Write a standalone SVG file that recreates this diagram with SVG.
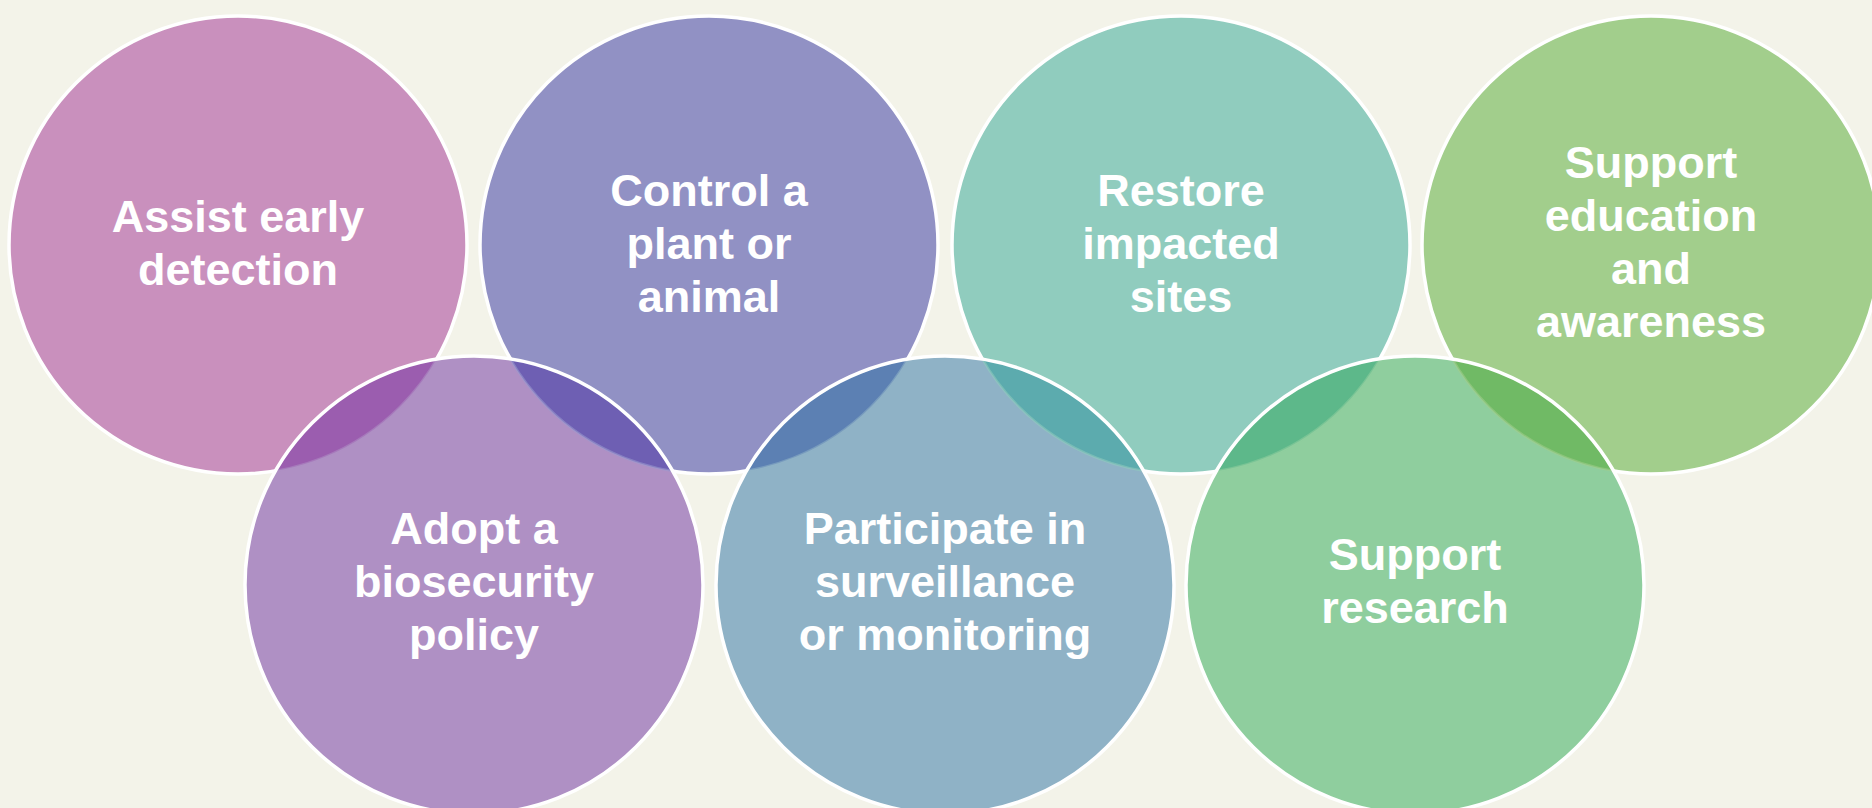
<svg xmlns="http://www.w3.org/2000/svg" width="1872" height="808" viewBox="0 0 1872 808">
<style>
.ring{stroke:#FFFFFF;stroke-width:3.5}
.outline{fill:none;stroke:#FFFFFF;stroke-width:3.5}
.lbl{font-family:"Liberation Sans",Arial,sans-serif;font-weight:bold;font-size:45px;fill:#FFFFFF;text-anchor:middle}
.lens{stroke-width:2.5;stroke-opacity:0.55}
</style>
<defs>
<clipPath id="clip5"><circle cx="474" cy="585" r="229"/></clipPath>
<clipPath id="clip6"><circle cx="945" cy="585" r="229"/></clipPath>
<clipPath id="clip7"><circle cx="1415" cy="585" r="229"/></clipPath>
</defs>
<rect x="0" y="0" width="1872" height="808" fill="#F3F3E9"/>
<g id="node-assist">
<circle class="ring" cx="238" cy="245" r="229" fill="#C990BD"/>
<text class="lbl" x="238" y="232">Assist early</text>
<text class="lbl" x="238" y="285">detection</text>
</g>
<g id="node-control">
<circle class="ring" cx="709" cy="245" r="229" fill="#9191C4"/>
<text class="lbl" x="709" y="205.5">Control a</text>
<text class="lbl" x="709" y="258.5">plant or</text>
<text class="lbl" x="709" y="311.5">animal</text>
</g>
<g id="node-restore">
<circle class="ring" cx="1181" cy="245" r="229" fill="#90CCBE"/>
<text class="lbl" x="1181" y="205.5">Restore</text>
<text class="lbl" x="1181" y="258.5">impacted</text>
<text class="lbl" x="1181" y="311.5">sites</text>
</g>
<g id="node-education">
<circle class="ring" cx="1651" cy="245" r="229" fill="#A2CE8C"/>
<text class="lbl" x="1651" y="178">Support</text>
<text class="lbl" x="1651" y="231">education</text>
<text class="lbl" x="1651" y="284">and</text>
<text class="lbl" x="1651" y="337">awareness</text>
</g>
<g id="node-biosecurity">
<circle cx="474" cy="585" r="229" fill="#AF90C4"/>
<text class="lbl" x="474" y="544">Adopt a</text>
<text class="lbl" x="474" y="597">biosecurity</text>
<text class="lbl" x="474" y="650">policy</text>
</g>
<g id="node-surveillance">
<circle cx="945" cy="585" r="229" fill="#8FB2C6"/>
<text class="lbl" x="945" y="544">Participate in</text>
<text class="lbl" x="945" y="597">surveillance</text>
<text class="lbl" x="945" y="650">or monitoring</text>
</g>
<g id="node-research">
<circle cx="1415" cy="585" r="229" fill="#8FCE9E"/>
<text class="lbl" x="1415" y="570">Support</text>
<text class="lbl" x="1415" y="623">research</text>
</g>
<g id="overlaps">
<circle class="lens" cx="238" cy="245" r="229" fill="#9B5DAF" stroke="#AF90C4" clip-path="url(#clip5)"/>
<circle class="lens" cx="709" cy="245" r="229" fill="#6E5FB3" stroke="#9A9BD0" clip-path="url(#clip5)"/>
<circle class="lens" cx="709" cy="245" r="229" fill="#5C80B3" stroke="#8FB2C6" clip-path="url(#clip6)"/>
<circle class="lens" cx="1181" cy="245" r="229" fill="#5CABAE" stroke="#90CCBE" clip-path="url(#clip6)"/>
<circle class="lens" cx="1181" cy="245" r="229" fill="#5DB88A" stroke="#8FCE9E" clip-path="url(#clip7)"/>
<circle class="lens" cx="1651" cy="245" r="229" fill="#70BA65" stroke="#A2CE8C" clip-path="url(#clip7)"/>
<circle class="outline" cx="474" cy="585" r="229"/>
<circle class="outline" cx="945" cy="585" r="229"/>
<circle class="outline" cx="1415" cy="585" r="229"/>
</g>
<g id="connectors"/>
</svg>
